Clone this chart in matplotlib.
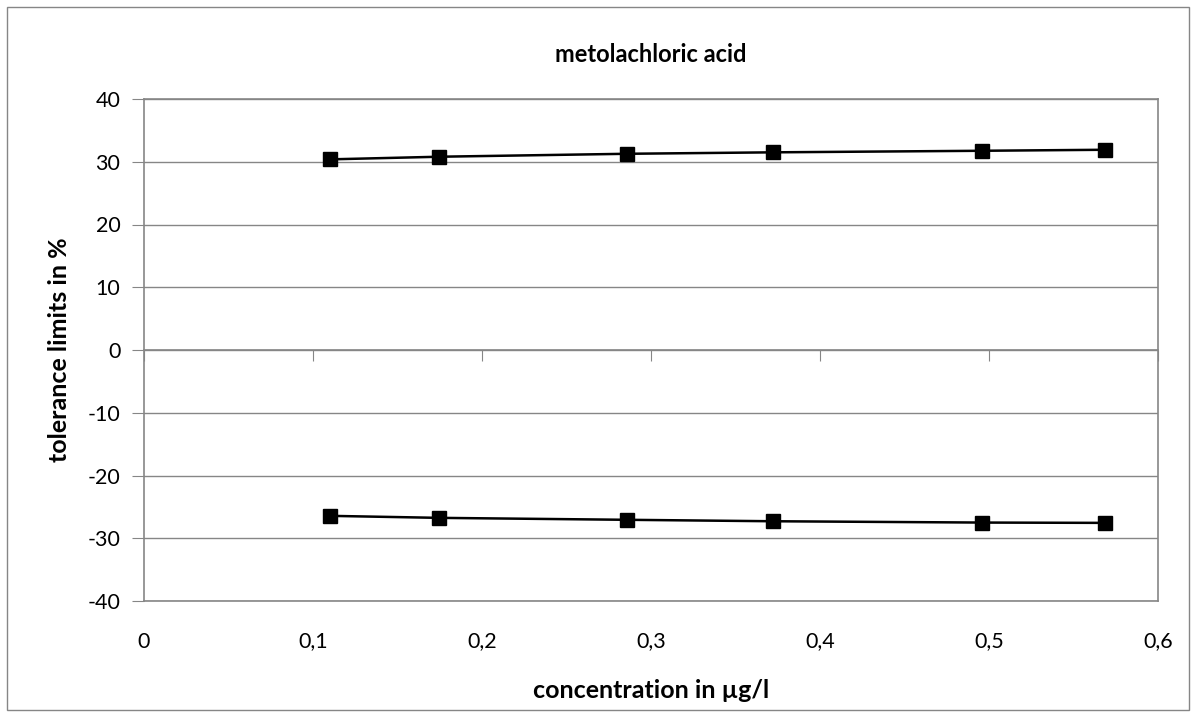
import matplotlib.pyplot as plt
from matplotlib.patches import Rectangle

conc = [0.110, 0.1746, 0.2858, 0.372, 0.496, 0.5686]
upper = [30.38, 30.8, 31.27, 31.5, 31.75, 31.91]
lower = [-26.43, -26.75, -27.06, -27.29, -27.5, -27.55]
xticks = [0, 0.1, 0.2, 0.3, 0.4, 0.5, 0.6]
xlabels = ['0', '0,1', '0,2', '0,3', '0,4', '0,5', '0,6']
yticks = [-40, -30, -20, -10, 0, 10, 20, 30, 40]

plt.rcParams['font.family'] = ['Lato', 'DejaVu Sans']
grey = '#868686'

fig = plt.figure(figsize=(11.94, 7.19), dpi=100)
ax = fig.add_axes([144 / 1194, 1 - 601 / 719, 1014 / 1194, 502 / 719])

# outer chart border
fig.patches.append(Rectangle((7 / 1194, 9 / 719), 1182 / 1194, 703 / 719,
                             transform=fig.transFigure, fill=False,
                             edgecolor=grey, linewidth=1))

ax.plot(conc, upper, color='black', linewidth=1.8, marker='s', markersize=10)
ax.plot(conc, lower, color='black', linewidth=1.8, marker='s', markersize=10)

ax.set_xlim(0, 0.6)
ax.set_ylim(-40, 40)
ax.set_yticks(yticks)
ax.set_yticklabels([str(v) for v in yticks])
ax.set_xticks(xticks)
ax.set_xticklabels(xlabels)
ax.yaxis.grid(True, color=grey, linewidth=1)
ax.set_axisbelow(True)
for s in ax.spines.values():
    s.set_color(grey)
    s.set_linewidth(1.2)
ax.tick_params(axis='y', direction='out', length=9, color=grey, labelsize=15.5, pad=8)
ax.tick_params(axis='x', length=0, labelsize=15.5, pad=22)

# tick marks on the zero line (x axis crosses at y=0)
sec = ax.secondary_xaxis(0.5)
sec.set_xticks(xticks)
sec.tick_params(direction='in', length=8, color=grey, labeltop=False, labelbottom=False)
for s in sec.spines.values():
    s.set_color(grey)
    s.set_linewidth(1.2)

ax.set_xlabel('concentration in µg/l', fontsize=18, fontweight='bold', labelpad=20)
ax.set_ylabel('tolerance limits in %', fontsize=18, fontweight='bold', labelpad=12)
ax.set_title('metolachloric acid', fontsize=17, fontweight='bold', pad=27)

fig.savefig('out.png', dpi=100)
